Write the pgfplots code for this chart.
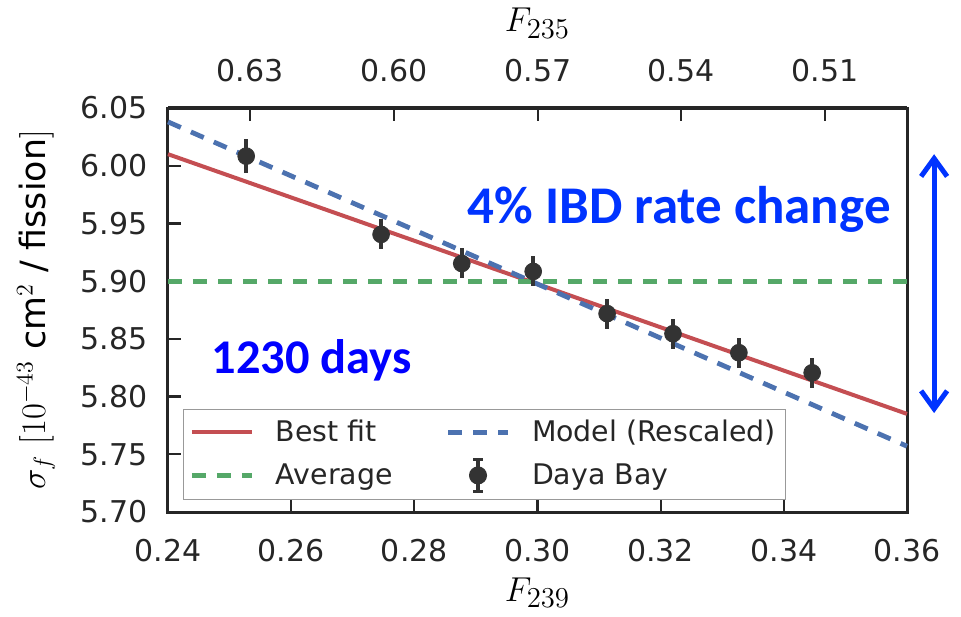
\documentclass[border=0pt]{standalone}
\usepackage{fontspec}
\setmainfont{DejaVu Sans}
\newfontfamily\calibri{Carlito}
\usepackage{pgfplots}
\usepackage{pgfplotstable}
\pgfplotsset{compat=1.18}
\usetikzlibrary{arrows.meta}
\definecolor{sred}{HTML}{C44E52}
\definecolor{sblue}{HTML}{4C72B0}
\definecolor{sgreen}{HTML}{55A868}
\definecolor{dark}{HTML}{333333}
\definecolor{spine}{HTML}{262626}
\definecolor{ann}{HTML}{0033FF}
\definecolor{anntwo}{HTML}{0000FF}

\pgfplotsset{
  lineleg/.style={legend image code/.code={\draw[##1] (0pt,0pt) -- (30pt,0pt); \path[draw=none,fill=none] (0pt,0pt) rectangle (40pt,0.1pt);}},
  dataleg/.style={legend image code/.code={%
    \draw[dark, line width=2pt] (15pt,-8pt) -- (15pt,8pt);
    \draw[dark, line width=1.2pt] (12.5pt,8pt) -- (17.5pt,8pt) (12.5pt,-8pt) -- (17.5pt,-8pt);
    \fill[dark] (15pt,0pt) circle (4.2pt);
    \path[draw=none,fill=none] (0pt,0pt) rectangle (40pt,0.1pt);}},
}

\pgfplotstableread{
x y e
0.2527 6.0083 0.015
0.2746 5.9405 0.013
0.2877 5.9153 0.013
0.2993 5.9084 0.013
0.3113 5.8719 0.013
0.3220 5.8545 0.013
0.3327 5.8380 0.013
0.3446 5.8206 0.013
}\dayabay

\begin{document}
\begin{tikzpicture}
\begin{axis}[
  scale only axis, width=369.5pt, height=202pt,
  xmin=0.24, xmax=0.36, ymin=5.70, ymax=6.05,
  clip=false,
  tick pos=left, tick align=inside,
  major tick length=6.5pt,
  tick style={line width=1.1pt, color=spine},
  axis line style={line width=1.5pt, color=spine},
  xtick={0.24,0.26,0.28,0.30,0.32,0.34,0.36},
  xticklabels={0.24,0.26,0.28,0.30,0.32,0.34,0.36},
  ytick={5.70,5.75,5.80,5.85,5.90,5.95,6.00,6.05},
  yticklabels={5.70,5.75,5.80,5.85,5.90,5.95,6.00,6.05},
  tick label style={font=\fontsize{15}{18}\selectfont, color=spine, inner sep=0pt},
  xticklabel style={anchor=base, yshift=-24.5pt},
  yticklabel style={anchor=east, xshift=-10pt},
  xlabel={$F_{239}$},
  xlabel style={font=\fontsize{19}{22}\selectfont, at={(axis description cs:0.5,0)}, anchor=base, yshift=-44.5pt, inner sep=0pt},
  ylabel={$\sigma_f\ [10^{-43}$ cm$^2$ / fission$]$},
  ylabel style={font=\fontsize{17.4}{20}\selectfont, at={(axis description cs:-0.1786,0.5)}, anchor=center, inner sep=0pt},
  legend columns=2,
  legend cell align=left,
  legend style={at={(0.0203,0.0297)}, anchor=south west, draw=gray!80, line width=0.6pt, fill=white,
    font=\fontsize{14.2}{16}\selectfont, text=spine, row sep=4.5pt, inner ysep=3pt,
    /tikz/every even column/.append style={column sep=24.5pt}},
]
\coordinate (bl) at (rel axis cs:0,0);
\coordinate (tr) at (rel axis cs:1,1);
\addplot[sred, line width=2pt, lineleg]
  coordinates {(0.24,6.010) (0.36,5.785)};
\addlegendentry{Best fit}
\addplot[sblue, line width=2.4pt, dash pattern=on 7pt off 5.5pt, lineleg]
  coordinates {(0.24,6.038) (0.36,5.757)};
\addlegendentry{Model (Rescaled)}
\addplot[sgreen, line width=2.4pt, dash pattern=on 7pt off 5.5pt, lineleg]
  coordinates {(0.24,5.90) (0.36,5.90)};
\addlegendentry{Average}
\addplot[dark, only marks, mark=*, mark size=4.2pt, mark options={draw=dark, fill=dark}, dataleg,
  error bars/.cd, y dir=both, y explicit, error mark=none,
  error bar style={line width=2.2pt, color=dark}]
  table[x=x, y=y, y error=e] {\dayabay};
\addlegendentry{Daya Bay}
\node[anchor=base west, inner sep=0pt, text=ann, font=\calibri\bfseries\fontsize{26.5}{30}\selectfont]
  at (axis cs:0.2886,5.950) {4\% IBD rate change};
\node[anchor=base west, inner sep=0pt, text=anntwo, font=\calibri\bfseries\fontsize{24.2}{30}\selectfont]
  at (axis cs:0.2470,5.8204) {1230 days};
\draw[ann, line width=2.5pt, {Straight Barb[length=9pt,width=13pt]}-{Straight Barb[length=9pt,width=13pt]}]
  (axis cs:0.3644,6.010) -- (axis cs:0.3644,5.7857);
\end{axis}
\begin{axis}[
  scale only axis, width=369.5pt, height=202pt,
  xmin=0.24, xmax=0.36, ymin=5.70, ymax=6.05,
  axis x line*=top, axis y line=none,
  tick align=inside,
  major tick length=6.5pt,
  tick style={line width=1.1pt, color=spine},
  axis line style={line width=1.5pt, color=spine},
  xtick={0.2533,0.2767,0.3001,0.3233,0.3467},
  xticklabels={0.63,0.60,0.57,0.54,0.51},
  tick label style={font=\fontsize{15}{18}\selectfont, color=spine, inner sep=0pt},
  xticklabel style={anchor=base, yshift=13pt},
  xlabel={$F_{235}$},
  xlabel style={font=\fontsize{19}{22}\selectfont, at={(axis description cs:0.5,1)}, anchor=base, yshift=38pt, inner sep=0pt},
]
\end{axis}
\pgfresetboundingbox
\path[use as bounding box] ([shift={(-84pt,-52pt)}]bl) rectangle ([shift={(27pt,54pt)}]tr);
\end{tikzpicture}
\end{document}
